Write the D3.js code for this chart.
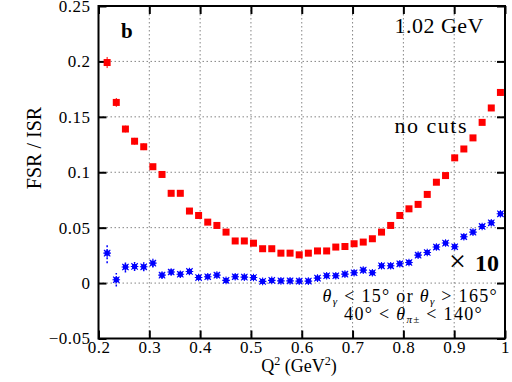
<!DOCTYPE html>
<html>
<head>
<meta charset="utf-8">
<script src="https://cdn.jsdelivr.net/npm/d3@7"></script>
<style>
  body { margin: 0; background: #fff; }
  svg text { font-family: "Liberation Serif", "DejaVu Serif", serif; fill: #000; }
</style>
</head>
<body>
<script>
// Q^2 bin centres (GeV^2)
var q2 = [0.217, 0.235, 0.253, 0.271, 0.289, 0.307, 0.325, 0.343, 0.361, 0.379,
          0.397, 0.415, 0.433, 0.451, 0.469, 0.487, 0.505, 0.523, 0.541, 0.559,
          0.577, 0.595, 0.613, 0.631, 0.649, 0.667, 0.685, 0.703, 0.721, 0.739,
          0.757, 0.775, 0.793, 0.811, 0.829, 0.847, 0.865, 0.883, 0.901, 0.919,
          0.937, 0.955, 0.973, 0.991];

// no cuts
var noCuts = [0.199, 0.163, 0.139, 0.128, 0.123, 0.105, 0.098, 0.081, 0.081, 0.065,
              0.061, 0.055, 0.052, 0.046, 0.038, 0.038, 0.036, 0.031, 0.031, 0.027,
              0.027, 0.0255, 0.027, 0.029, 0.029, 0.0325, 0.033, 0.0355, 0.037, 0.040,
              0.046, 0.052, 0.061, 0.067, 0.071, 0.080, 0.091, 0.097, 0.113, 0.121,
              0.131, 0.145, 0.158, 0.172];
var noCutsErr = [0.005, 0.004, 0.003, 0.003, 0.003, 0.002, 0.002, 0.002, 0.002, 0.002,
                 0.002, 0.002, 0.002, 0.002, 0.002, 0.002, 0.002, 0.002, 0.002, 0.002,
                 0.002, 0.002, 0.002, 0.002, 0.002, 0.002, 0.002, 0.002, 0.002, 0.002,
                 0.002, 0.002, 0.002, 0.002, 0.002, 0.002, 0.002, 0.002, 0.002, 0.002,
                 0.002, 0.002, 0.002, 0.003];

// angular cuts, multiplied by 10
var cuts = [0.027, 0.003, 0.0145, 0.015, 0.0147, 0.018, 0.0072, 0.010, 0.008, 0.0105,
            0.005, 0.0057, 0.0072, 0.0024, 0.0057, 0.0054, 0.005, 0.0015, 0.0024, 0.002,
            0.002, 0.0018, 0.0018, 0.0045, 0.0066, 0.0066, 0.0081, 0.0093, 0.0117, 0.0093,
            0.0156, 0.0156, 0.0174, 0.0186, 0.0252, 0.0276, 0.0325, 0.0361, 0.0328, 0.0418,
            0.046, 0.0511, 0.0544, 0.0625];
var cutsErr = [0.009, 0.006, 0.005, 0.004, 0.004, 0.004, 0.003, 0.003, 0.003, 0.003,
               0.002, 0.002, 0.002, 0.002, 0.002, 0.002, 0.002, 0.002, 0.002, 0.002,
               0.002, 0.002, 0.002, 0.002, 0.002, 0.002, 0.002, 0.002, 0.002, 0.002,
               0.002, 0.002, 0.002, 0.002, 0.002, 0.002, 0.002, 0.002, 0.002, 0.002,
               0.002, 0.002, 0.002, 0.002];

var xTicks = [0.2, 0.3, 0.4, 0.5, 0.6, 0.7, 0.8, 0.9, 1];
var xTickLabels = ["0.2", "0.3", "0.4", "0.5", "0.6", "0.7", "0.8", "0.9", "1"];
var yTicks = [-0.05, 0, 0.05, 0.1, 0.15, 0.2, 0.25];
var yTickLabels = ["\u22120.05", "0", "0.05", "0.1", "0.15", "0.2", "0.25"];

var width = 512, height = 382;
var pLeft = 98.5, pRight = 505, pTop = 6, pBottom = 338.5;
var serif = "Liberation Serif, DejaVu Serif, serif";

var svg = d3.select("body").append("svg")
    .attr("width", width)
    .attr("height", height);

var x = d3.scaleLinear().domain([0.2, 1]).range([pLeft, pRight]);
var y = d3.scaleLinear().domain([-0.05, 0.25]).range([pBottom, pTop]);

// dotted grid
svg.append("g").selectAll("line")
    .data(xTicks.slice(1, -1))
    .enter().append("line")
    .attr("x1", d => x(d)).attr("x2", d => x(d))
    .attr("y1", pTop).attr("y2", pBottom)
    .attr("stroke", "#666").attr("stroke-width", 0.8)
    .attr("stroke-dasharray", "1.5,2.5");
svg.append("g").selectAll("line")
    .data(yTicks.slice(1, -1))
    .enter().append("line")
    .attr("x1", pLeft).attr("x2", pRight)
    .attr("y1", d => y(d)).attr("y2", d => y(d))
    .attr("stroke", "#666").attr("stroke-width", 0.8)
    .attr("stroke-dasharray", "1.5,2.5");

// axes with inward ticks
function styleAxis(g) {
    g.attr("font-family", serif).attr("font-size", null);
    g.select(".domain").remove();
    g.selectAll(".tick line").attr("stroke", "#000").attr("stroke-width", 2);
    g.selectAll(".tick text").attr("font-size", 17).attr("letter-spacing", 0.5);
}
svg.append("g").attr("transform", "translate(0," + pBottom + ")")
    .call(d3.axisBottom(x).tickValues(xTicks).tickSize(-8).tickPadding(2)
        .tickFormat((d, i) => xTickLabels[i]))
    .call(styleAxis);
svg.append("g").attr("transform", "translate(0," + pTop + ")")
    .call(d3.axisTop(x).tickValues(xTicks).tickSize(-8).tickFormat(""))
    .call(styleAxis);
svg.append("g").attr("transform", "translate(" + pLeft + ",0)")
    .call(d3.axisLeft(y).tickValues(yTicks).tickSize(-8).tickPadding(8)
        .tickFormat((d, i) => yTickLabels[i]))
    .call(styleAxis);
svg.append("g").attr("transform", "translate(" + pRight + ",0)")
    .call(d3.axisRight(y).tickValues(yTicks).tickSize(-8).tickFormat(""))
    .call(styleAxis);

svg.append("rect")
    .attr("x", pLeft).attr("y", pTop)
    .attr("width", pRight - pLeft).attr("height", pBottom - pTop)
    .attr("fill", "none").attr("stroke", "#000").attr("stroke-width", 2);

// no cuts (red squares)
var red = svg.append("g");
red.selectAll("line")
    .data(noCuts)
    .enter().append("line")
    .attr("x1", (d, i) => x(q2[i])).attr("x2", (d, i) => x(q2[i]))
    .attr("y1", (d, i) => y(d - noCutsErr[i])).attr("y2", (d, i) => y(d + noCutsErr[i]))
    .attr("stroke", "#f00").attr("stroke-width", 1);
red.selectAll("rect")
    .data(noCuts)
    .enter().append("rect")
    .attr("x", (d, i) => x(q2[i]) - 3.5).attr("y", d => y(d) - 3.5)
    .attr("width", 7).attr("height", 7)
    .attr("fill", "#f00");

// with cuts x10 (blue stars)
var blue = svg.append("g");
blue.selectAll("line")
    .data(cuts)
    .enter().append("line")
    .attr("x1", (d, i) => x(q2[i])).attr("x2", (d, i) => x(q2[i]))
    .attr("y1", (d, i) => y(d - cutsErr[i])).attr("y2", (d, i) => y(d + cutsErr[i]))
    .attr("stroke", "#00f").attr("stroke-width", 1.5)
    .attr("stroke-dasharray", "2,2");
blue.selectAll("rect")
    .data(cuts)
    .enter().append("rect")
    .attr("x", (d, i) => x(q2[i]) - 2.5).attr("y", d => y(d) - 2.5)
    .attr("width", 5).attr("height", 5)
    .attr("fill", "#00f");
blue.selectAll("path")
    .data(cuts)
    .enter().append("path")
    .attr("transform", (d, i) => "translate(" + x(q2[i]) + "," + y(d) + ")")
    .attr("d", "M-3.2,-3.2L3.2,3.2M-3.2,3.2L3.2,-3.2M0,-3.8L0,3.8M-3.8,0L3.8,0")
    .attr("stroke", "#00f").attr("stroke-width", 1.1);

// labels
svg.append("text")
    .attr("transform", "translate(41,148) rotate(-90)")
    .attr("text-anchor", "middle")
    .attr("font-family", serif)
    .attr("font-size", 20)
    .text("FSR / ISR");

var xl = svg.append("text")
    .attr("x", 299).attr("y", 372)
    .attr("text-anchor", "middle")
    .attr("font-family", serif)
    .attr("font-size", 18);
xl.append("tspan").text("Q");
xl.append("tspan").attr("dy", -7).attr("font-size", 12).text("2");
xl.append("tspan").attr("dy", 7).text(" (GeV");
xl.append("tspan").attr("dy", -7).attr("font-size", 12).text("2");
xl.append("tspan").attr("dy", 7).text(")");

svg.append("text")
    .attr("x", 121).attr("y", 38)
    .attr("font-family", serif)
    .attr("font-size", 21).attr("font-weight", "bold")
    .text("b");

svg.append("text")
    .attr("x", 484).attr("y", 33)
    .attr("text-anchor", "end")
    .attr("font-family", serif)
    .attr("font-size", 22).attr("letter-spacing", 0.5)
    .text("1.02 GeV");

svg.append("text")
    .attr("x", 468).attr("y", 133)
    .attr("text-anchor", "end")
    .attr("font-family", serif)
    .attr("font-size", 22).attr("letter-spacing", 1.5)
    .text("no cuts");

var t10 = svg.append("text")
    .attr("x", 499).attr("y", 271)
    .attr("text-anchor", "end")
    .attr("font-family", serif)
    .attr("font-size", 24);
t10.append("tspan").attr("font-size", 30).text("\u00d7");
t10.append("tspan").attr("dx", 9).attr("font-weight", "bold").text("10");

var c1 = svg.append("text")
    .attr("x", 498).attr("y", 302)
    .attr("text-anchor", "end")
    .attr("font-family", serif)
    .attr("font-size", 18).attr("letter-spacing", 1.3);
c1.append("tspan").attr("font-style", "italic").text("\u03b8");
c1.append("tspan").attr("font-style", "italic").attr("font-size", 11).attr("dy", 3).text("\u03b3");
c1.append("tspan").attr("dy", -3).text(" < 15\u00b0 or ");
c1.append("tspan").attr("font-style", "italic").text("\u03b8");
c1.append("tspan").attr("font-style", "italic").attr("font-size", 11).attr("dy", 3).text("\u03b3");
c1.append("tspan").attr("dy", -3).text(" > 165\u00b0");

var c2 = svg.append("text")
    .attr("x", 483).attr("y", 320)
    .attr("text-anchor", "end")
    .attr("font-family", serif)
    .attr("font-size", 18).attr("letter-spacing", 1.3);
c2.append("tspan").text("40\u00b0 < ");
c2.append("tspan").attr("font-style", "italic").text("\u03b8");
c2.append("tspan").attr("font-style", "italic").attr("font-size", 11).attr("dy", 3).text("\u03c0\u00b1");
c2.append("tspan").attr("dy", -3).text(" < 140\u00b0");
</script>
</body>
</html>
